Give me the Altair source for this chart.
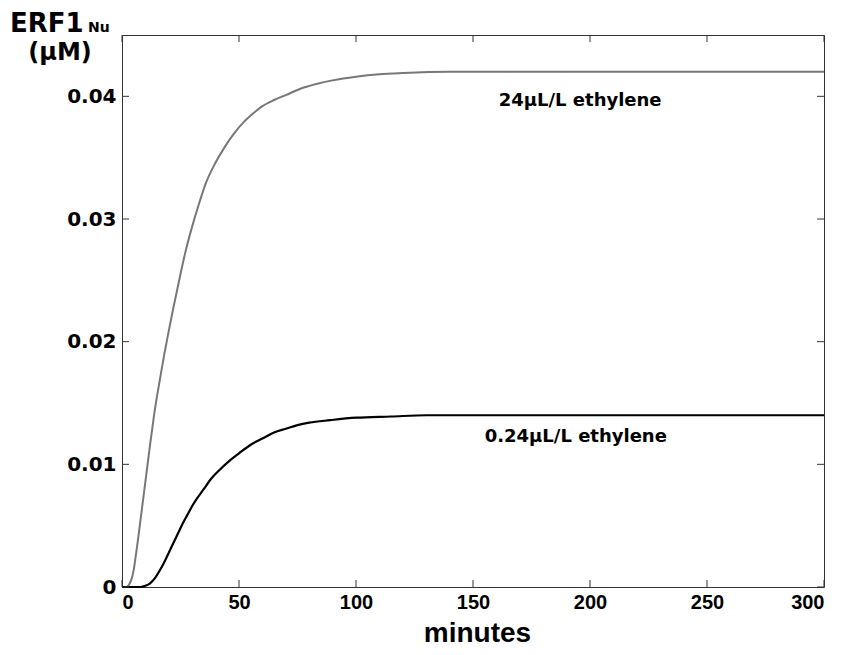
import altair as alt
import pandas as pd

# ---- data ----
t_high = [0, 2, 3, 4, 5, 6, 7, 8, 9, 10, 11, 12, 13, 14, 15, 16, 18, 20, 22, 24, 26, 28, 30,
          33, 36, 40, 44, 48, 52, 56, 60, 65, 70, 76, 83, 90, 100, 110, 120, 140, 170, 300]
v_high = [0.0, 0.0, 0.0002, 0.0006, 0.0014, 0.0027, 0.0041, 0.0056, 0.0071, 0.0086, 0.0101,
          0.0116, 0.0130, 0.0144, 0.0156, 0.0167, 0.0189, 0.0209, 0.0228, 0.0246, 0.0264,
          0.0280, 0.0294, 0.0313, 0.0330, 0.0346, 0.0359, 0.0370, 0.0379, 0.0386, 0.0392,
          0.0397, 0.0401, 0.0406, 0.0410, 0.0413, 0.0416, 0.0418, 0.0419, 0.0420, 0.0420, 0.0420]

t_low = [0, 8, 10, 12, 14, 16, 18, 20, 22, 24, 26, 28, 30, 32, 35, 38, 42, 46, 50, 55, 60,
         65, 70, 75, 80, 89, 100, 115, 130, 300]
v_low = [0.0, 0.0, 0.0001, 0.0003, 0.0007, 0.0013, 0.0020, 0.0028, 0.0036, 0.0044, 0.0052,
         0.0059, 0.0066, 0.0072, 0.0080, 0.0088, 0.0096, 0.0103, 0.0109, 0.0116, 0.0121,
         0.0126, 0.0129, 0.0132, 0.0134, 0.0136, 0.0138, 0.0139, 0.0140, 0.0140]

x_ticks = [0, 50, 100, 150, 200, 250, 300]
y_ticks = [0, 0.01, 0.02, 0.03, 0.04]

label_texts = ["24\u03bcL/L ethylene", "0.24\u03bcL/L ethylene"]
label_t = [161, 155]
label_v = [0.0392, 0.0118]

title_main = ["ERF1"]
title_sub = ["Nu"]
title_unit = ["(\u03bcM)"]

# ---- chart ----
W, H = 702, 552

df_high = pd.DataFrame({"t": t_high, "v": v_high})
df_low = pd.DataFrame({"t": t_low, "v": v_low})
df_xt = pd.DataFrame({"t": x_ticks})
df_yt = pd.DataFrame({"v": y_ticks})
df_lab = pd.DataFrame({"t": label_t, "v": label_v, "label": label_texts})

xscale = alt.Scale(domain=[0, 300], nice=False, zero=False)
yscale = alt.Scale(domain=[0, 0.045], nice=False)

xaxis = alt.Axis(values=x_ticks, ticks=False, domain=False, grid=False,
                 labelFont="Liberation Sans", labelFontWeight="bold", labelFontSize=20,
                 labelColor="black", labelPadding=5,
                 title="minutes", titleFont="Liberation Sans", titleFontWeight="bold",
                 titleFontSize=28, titleColor="black", titleBaseline="alphabetic",
                 titleY=54, titleX=355)
yaxis = alt.Axis(values=y_ticks, ticks=False, domain=False, grid=False,
                 labelExpr="datum.value == 0 ? '0' : format(datum.value, '.2f')",
                 labelFont="DejaVu Sans", labelFontWeight="bold", labelFontSize=20,
                 labelColor="black", labelPadding=6, title="")

X = alt.X("t:Q", scale=xscale, axis=xaxis)
Y = alt.Y("v:Q", scale=yscale, axis=yaxis)

high = alt.Chart(df_high).mark_line(color="#777777", strokeWidth=2,
                                    interpolate="monotone").encode(x=X, y=Y)
low = alt.Chart(df_low).mark_line(color="black", strokeWidth=2.2,
                                  interpolate="monotone").encode(x=X, y=Y)

tick_bottom = alt.Chart(df_xt).mark_rule(color="#333333").encode(
    x=X, y=alt.value(H), y2=alt.value(H - 7))
tick_top = alt.Chart(df_xt).mark_rule(color="#333333").encode(
    x=X, y=alt.value(0), y2=alt.value(7))
tick_left = alt.Chart(df_yt).mark_rule(color="#333333").encode(
    y=Y, x=alt.value(0), x2=alt.value(7))
tick_right = alt.Chart(df_yt).mark_rule(color="#333333").encode(
    y=Y, x=alt.value(W), x2=alt.value(W - 7))

labels = alt.Chart(df_lab).mark_text(
    align="left", baseline="alphabetic", font="DejaVu Sans", fontWeight="bold",
    fontSize=18, color="black").encode(x=X, y=Y, text="label:N")

t1 = alt.Chart(pd.DataFrame({"s": title_main})).mark_text(
    align="left", baseline="alphabetic", font="DejaVu Sans", fontWeight="bold",
    fontSize=26, color="black").encode(text="s:N", x=alt.value(-112), y=alt.value(-3))
t2 = alt.Chart(pd.DataFrame({"s": title_sub})).mark_text(
    align="left", baseline="alphabetic", font="DejaVu Sans", fontWeight="bold",
    fontSize=14, color="black").encode(text="s:N", x=alt.value(-34), y=alt.value(-3))
t3 = alt.Chart(pd.DataFrame({"s": title_unit})).mark_text(
    align="center", baseline="alphabetic", font="DejaVu Sans", fontWeight="bold",
    fontSize=24, color="black").encode(text="s:N", x=alt.value(-62), y=alt.value(25))

chart = alt.layer(high, low, tick_bottom, tick_top, tick_left, tick_right, labels, t1, t2, t3).properties(
    width=W, height=H,
    autosize=alt.AutoSizeParams(type="none"),
    padding={"left": 114, "top": 27, "right": 16, "bottom": 60},
).configure_view(stroke="#333333", strokeWidth=1)

chart.save("out.html", embed_options={"renderer": "svg", "actions": False})
